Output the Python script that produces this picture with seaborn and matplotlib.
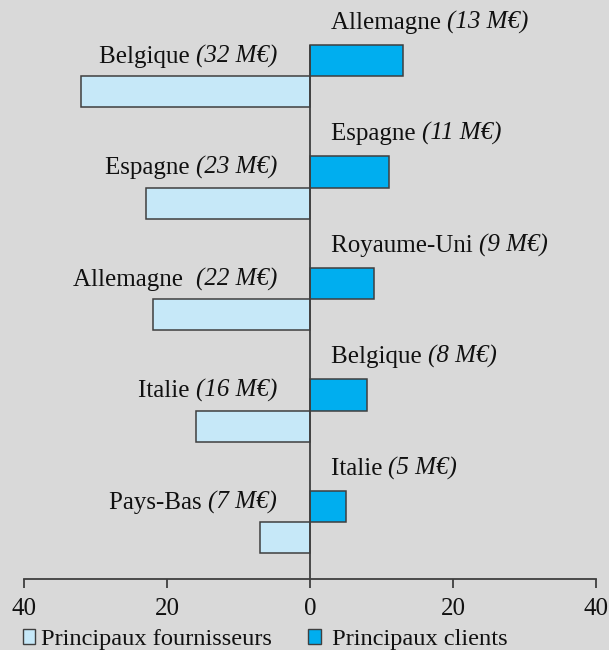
import pandas as pd
import numpy as np
import matplotlib
matplotlib.use('Agg')
import matplotlib.pyplot as plt
import seaborn as sns
from matplotlib.patches import Patch
from matplotlib.ticker import FuncFormatter

# Données : principaux clients et fournisseurs (en M€)
clients_pays = ['Allemagne', 'Espagne', 'Royaume-Uni', 'Belgique', 'Italie']
clients_valeurs = [13, 11, 9, 8, 5]
fournisseurs_pays = ['Belgique', 'Espagne', 'Allemagne ', 'Italie', 'Pays-Bas']
fournisseurs_valeurs = [32, 23, 22, 16, 7]
rangs = ['1', '2', '3', '4', '5']
ticks = [-40, -20, 0, 20, 40]

serie_clients = 'Principaux clients'
serie_fournisseurs = 'Principaux fournisseurs'
couleur_clients = '#00aeef'
couleur_fournisseurs = '#c6e8f8'
fond = '#d9d9d9'
bord = '#3f3f3f'

df = pd.concat([
    pd.DataFrame({'rang': rangs, 'valeur': clients_valeurs, 'serie': serie_clients}),
    pd.DataFrame({'rang': rangs, 'valeur': [-v for v in fournisseurs_valeurs], 'serie': serie_fournisseurs}),
], ignore_index=True)

sns.set_style('white')
plt.rcParams['font.family'] = ['Liberation Serif', 'DejaVu Serif']

fig = plt.figure(figsize=(6.09, 6.5), dpi=100, facecolor=fond)
ax = fig.add_axes([24 / 609, 71 / 650, 572 / 609, 579 / 650])
ax.set_facecolor(fond)

largeur = 0.56
sns.barplot(data=df, x='valeur', y='rang', hue='serie', orient='h',
            hue_order=[serie_clients, serie_fournisseurs],
            palette=[couleur_clients, couleur_fournisseurs],
            width=largeur, dodge=True, edgecolor=bord, linewidth=1.1,
            saturation=1, legend=False, ax=ax)

ax.set_xlim(-40, 40)
ax.set_ylim(4.511, -0.682)

# ligne verticale du zéro
ax.vlines(0, -largeur / 2, 4.511, color=bord, linewidth=1.3, zorder=3)

for s in ['top', 'left', 'right']:
    ax.spines[s].set_visible(False)
ax.spines['bottom'].set_color(bord)
ax.spines['bottom'].set_linewidth(1.3)
ax.set_xticks(ticks)
ax.xaxis.set_major_formatter(FuncFormatter(lambda v, p: f'{abs(int(v))}'))
ax.tick_params(axis='x', bottom=True, direction='out', length=6.5, width=1.3, color=bord,
               labelsize=18, pad=7, labelcolor='#111111')
ax.set_yticks([])
ax.set_xlabel('')
ax.set_ylabel('')

taille = 18
# étiquettes des clients (à droite)
for i, (pays, v) in enumerate(zip(clients_pays, clients_valeurs)):
    t1 = ax.annotate(pays + ' ', xy=(2.9, i - largeur / 2), xytext=(0, 8),
                     textcoords='offset points', ha='left', va='bottom',
                     fontsize=taille, color='#111111')
    ax.annotate(f'({v} M€)', xy=(1, 0), xycoords=t1, ha='left', va='bottom',
                fontsize=taille, style='italic', color='#111111')

# étiquettes des fournisseurs (à gauche)
for i, (pays, v) in enumerate(zip(fournisseurs_pays, fournisseurs_valeurs)):
    t2 = ax.annotate(f'({v} M€)', xy=(-4.6, i), xytext=(0, 6),
                     textcoords='offset points', ha='right', va='bottom',
                     fontsize=taille, style='italic', color='#111111')
    ax.annotate(pays + ' ', xy=(0, 0), xycoords=t2, ha='right', va='bottom',
                fontsize=taille, color='#111111')

handles = [Patch(facecolor=couleur_fournisseurs, edgecolor=bord, linewidth=1, label=serie_fournisseurs),
           Patch(facecolor=couleur_clients, edgecolor=bord, linewidth=1, label=' ' + serie_clients)]
fig.legend(handles=handles, loc='lower left', bbox_to_anchor=(0.038, 0.0), ncol=2,
           frameon=False, fontsize=17.6, handlelength=0.5, handleheight=0.55,
           handletextpad=0.22, columnspacing=1.5, borderpad=0, borderaxespad=0,
           labelcolor='#111111')

fig.savefig('out.png', dpi=100, facecolor=fond)
